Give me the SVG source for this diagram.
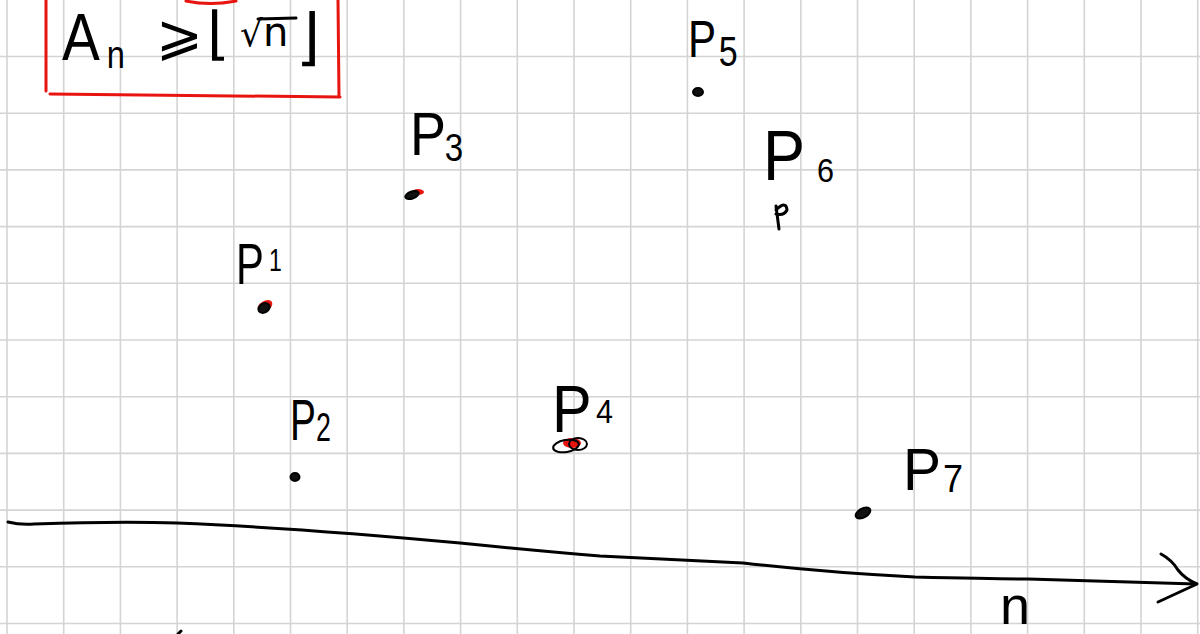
<svg xmlns="http://www.w3.org/2000/svg" width="1200" height="634" viewBox="0 0 1200 634">
<style>
.grid{stroke:#d4d4d4;stroke-width:1.6}
.ink{fill:none;stroke:#000;stroke-width:3;stroke-linecap:round;stroke-linejoin:round}
.red{fill:none;stroke:#e8140f;stroke-width:3;stroke-linecap:round;stroke-linejoin:round}
.lbl{font-family:"Liberation Sans",sans-serif;fill:#000}
.math{font-family:"DejaVu Sans",sans-serif;fill:#000}
.dotk{fill:#111;stroke:#000;stroke-width:2}
.ring{fill:none;stroke:#000;stroke-width:2}
.dotr{fill:#e8140f}
</style>
<rect width="1200" height="634" fill="#fff"/>
<g id="grid" class="grid">
<line x1="7" y1="0" x2="7" y2="634"/><line x1="63.7" y1="0" x2="63.7" y2="634"/><line x1="120.4" y1="0" x2="120.4" y2="634"/><line x1="177.1" y1="0" x2="177.1" y2="634"/><line x1="233.8" y1="0" x2="233.8" y2="634"/><line x1="290.5" y1="0" x2="290.5" y2="634"/><line x1="347.2" y1="0" x2="347.2" y2="634"/><line x1="403.9" y1="0" x2="403.9" y2="634"/><line x1="460.6" y1="0" x2="460.6" y2="634"/><line x1="517.3" y1="0" x2="517.3" y2="634"/><line x1="574" y1="0" x2="574" y2="634"/><line x1="630.7" y1="0" x2="630.7" y2="634"/><line x1="687.4" y1="0" x2="687.4" y2="634"/><line x1="744.1" y1="0" x2="744.1" y2="634"/><line x1="800.8" y1="0" x2="800.8" y2="634"/><line x1="857.5" y1="0" x2="857.5" y2="634"/><line x1="914.2" y1="0" x2="914.2" y2="634"/><line x1="970.9" y1="0" x2="970.9" y2="634"/><line x1="1027.6" y1="0" x2="1027.6" y2="634"/><line x1="1084.3" y1="0" x2="1084.3" y2="634"/><line x1="1141" y1="0" x2="1141" y2="634"/><line x1="1197.7" y1="0" x2="1197.7" y2="634"/>
<line x1="0" y1="56.5" x2="1200" y2="56.5"/><line x1="0" y1="113.2" x2="1200" y2="113.2"/><line x1="0" y1="169.9" x2="1200" y2="169.9"/><line x1="0" y1="226.6" x2="1200" y2="226.6"/><line x1="0" y1="283.3" x2="1200" y2="283.3"/><line x1="0" y1="340" x2="1200" y2="340"/><line x1="0" y1="396.7" x2="1200" y2="396.7"/><line x1="0" y1="453.4" x2="1200" y2="453.4"/><line x1="0" y1="510.1" x2="1200" y2="510.1"/><line x1="0" y1="566.8" x2="1200" y2="566.8"/><line x1="0" y1="623.5" x2="1200" y2="623.5"/>
</g>
<g id="formula">
<path class="red" d="M46,0 L46,91 M50,94 Q190,95 340,97 M338,0 L339,97"/>
<path class="red" d="M186,1 Q210,6 236,1"/>
<text class="lbl" transform="translate(62,60) scale(0.86,1)" font-size="66">A<tspan x="52" y="8" font-size="38">n</tspan></text>
<text class="math" x="156" y="54" font-size="56">⩾</text>
<text class="math" x="207" y="53" font-size="58">⌊</text>
<text class="math" x="240" y="46" font-size="36">√<tspan font-size="40">n</tspan></text>
<path class="ink" d="M258,19 L296,18"/>
<text class="math" x="296" y="58" font-size="62">⌋</text>
</g>
<g id="p1">
<text class="lbl" transform="translate(236,284) scale(0.72,1)" font-size="58">P<tspan x="46" y="-13" font-size="32">1</tspan></text>
<ellipse cx="265" cy="306" rx="8" ry="5" transform="rotate(-30 265 306)" class="dotr"/>
<ellipse cx="264" cy="308" rx="6" ry="4.5" transform="rotate(-30 264 308)" class="dotk"/>
</g>
<g id="p3">
<text class="lbl" transform="translate(410,155) scale(0.87,1)" font-size="62">P<tspan x="40" y="6" font-size="38">3</tspan></text>
<ellipse cx="418" cy="192" rx="6" ry="3" class="dotr"/>
<ellipse cx="412" cy="195" rx="7" ry="3.5" transform="rotate(-20 412 195)" class="dotk"/>
</g>
<g id="p5">
<text class="lbl" transform="translate(688,57) scale(0.81,1)" font-size="52">P<tspan x="38" y="9" font-size="42">5</tspan></text>
<ellipse cx="698" cy="92" rx="5" ry="4" class="dotk"/>
</g>
<g id="p6">
<text class="lbl" transform="translate(763,180) scale(0.9,1)" font-size="70">P<tspan x="60" y="2" font-size="34">6</tspan></text>
<path class="ink" d="M776,206 L779,229 M776,210 Q786,200 787,210 Q784,216 776,214"/>
</g>
<g id="p2">
<text class="lbl" transform="translate(290,440) scale(0.67,1)" font-size="58">P<tspan x="39" y="1" font-size="40">2</tspan></text>
<ellipse cx="295" cy="477" rx="4.5" ry="4" class="dotk"/>
</g>
<g id="p4">
<text class="lbl" transform="translate(552,432) scale(0.9,1)" font-size="66">P<tspan x="49" y="-9" font-size="34">4</tspan></text>
<ellipse cx="572" cy="443" rx="9" ry="5" class="dotr"/>
<ellipse cx="566" cy="446" rx="13" ry="6" transform="rotate(-10 566 446)" class="ring"/>
<ellipse cx="578" cy="444" rx="9" ry="6" class="ring"/>
</g>
<g id="p7">
<text class="lbl" transform="translate(903,490) scale(0.95,1)" font-size="60">P<tspan x="42" y="2" font-size="38">7</tspan></text>
<ellipse cx="863" cy="513" rx="8" ry="4.5" transform="rotate(-30 863 513)" class="dotk"/>
</g>
<g id="connectors">
<path class="ink" d="M8,522 Q20,525 34,524 Q120,521 177,523 Q300,528 460,543 Q540,551 600,556 Q680,560 743,563 Q830,573 915,577 Q1000,579 1028,579 Q1100,581 1196,584"/>
<path class="ink" d="M1161,554 Q1172,560 1178,570 Q1185,579 1197,584 L1158,602"/>
<path class="ink" d="M178,634 L181,631"/>
</g>
<g id="axis-label">
<text class="lbl" x="1000" y="624" font-size="54">n</text>
</g>
</svg>
